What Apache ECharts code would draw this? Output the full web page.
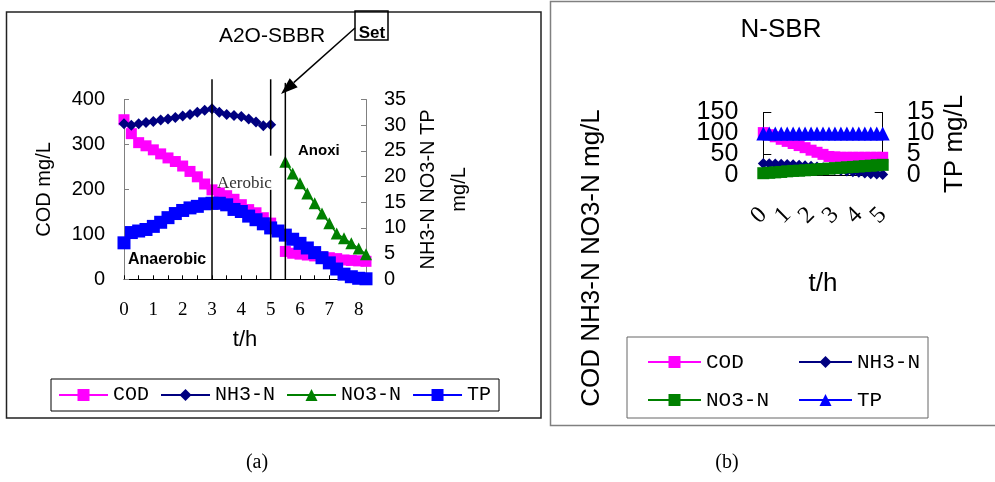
<!DOCTYPE html>
<html>
<head>
<meta charset="utf-8">
<script src="https://cdn.jsdelivr.net/npm/echarts@6/dist/echarts.min.js"></script>
<style>
  html, body { margin: 0; padding: 0; background: #fff; }
  #a { position: absolute; left: 0; top: 0; width: 548px; height: 482px; }
  #b { position: absolute; left: 548px; top: 0; width: 447px; height: 482px; }
</style>
</head>
<body>
<div id="a"></div>
<div id="b"></div>
<script>
// (a) A2O-SBBR, one sample every 15 min
var hoursA = [0, 0.25, 0.5, 0.75, 1, 1.25, 1.5, 1.75, 2, 2.25, 2.5, 2.75, 3, 3.25, 3.5, 3.75, 4,
  4.25, 4.5, 4.75, 5, 5.25, 5.5, 5.75, 6, 6.25, 6.5, 6.75, 7, 7.25, 7.5, 7.75, 8, 8.25];
var codA = [355, 324, 304, 297, 288, 279, 270, 262, 252, 240, 228, 212, 199, 192, 186, 178, 166,
  155, 148, 137, 125, null, 62, 58, 56, 54, 52, 50, 48, 46, 43, 42, 41, 40];
var nh3A = [30.3, 30.0, 30.3, 30.5, 30.7, 31.0, 31.2, 31.5, 31.8, 32.1, 32.5, 32.9, 33.2, 32.5, 32.1, 31.9, 31.7,
  31.2, 30.6, 29.9, 30.1, null, null, null, null, null, null, null, null, null, null, null, null, null];
var no3A = [null, null, null, null, null, null, null, null, null, null, null, null, null, null, null, null, null,
  null, null, null, null, null, 22.9, 20.6, 18.7, 16.7, 14.8, 12.8, 10.9, 8.9, 8.0, 7.0, 6.0, 4.9];
var tpA = [7.1, 9.1, 9.4, 9.7, 10.3, 11.1, 12.0, 12.8, 13.4, 13.9, 14.2, 14.7, 14.8, 14.8, 14.5, 13.6, 13.2,
  12.3, 11.6, 10.8, 10.0, 9.4, 8.6, 7.8, 7.0, 6.1, 5.2, 4.2, 3.2, 2.0, 1.0, 0.5, 0.2, 0.1];
var xTicksA = [0, 1, 2, 3, 4, 5, 6, 7, 8];
// phase boundaries: [t, from COD, to COD]
var phaseLines = [[3, 445, 0], [5, 445, 275], [5, 199, 0], [5.5, 437, 0]];

// (b) N-SBR
var hoursB = [0, 0.25, 0.5, 0.75, 1, 1.25, 1.5, 1.75, 2, 2.25, 2.5, 2.75, 3, 3.25, 3.5, 3.75, 4, 4.25, 4.5, 4.75, 5];
var codB = [102, 97, 92, 86, 81, 76, 71, 66, 60, 55, 50, 45, 44, 43, 43, 43, 43, 43, 43, 43, 43];
var nh3B = [28, 27.5, 27, 26.5, 26, 25, 24, 23, 21.5, 20, 18, 16, 14, 12, 10, 8.5, 7, 5.5, 4, 3, 2];
var no3B = [5, 6, 7, 8, 9.5, 10.5, 11, 12, 13, 14, 15, 16, 17, 18, 19, 20, 21, 22, 23, 24, 25];
var tpB = [10, 10, 10, 10, 10, 10, 10, 10, 10, 10, 10, 10, 10, 10, 10, 10, 10, 10, 10, 10, 10];
// tick labels of (b), split in two sets so that the crowded labels all stay visible
var leftLabelsB = [[0, 100], [50, 150]];
var rightLabelsB = [[0, 10], [5, 15]];

var sans = '"Liberation Sans", Arial, sans-serif';
var serif = '"Liberation Serif", "Times New Roman", serif';
var mono = '"Liberation Mono", monospace';

function pairs(xs, ys) {
  return xs.map(function (x, i) { return [x, ys[i] == null ? '-' : ys[i]]; });
}
function txt(x, y, text, font, extra) {
  var st = { text: text, x: 0, y: 0, align: 'center', verticalAlign: 'middle', fill: '#000' };
  for (var k in font) st[k] = font[k];
  var el = { type: 'text', x: x, y: y, z: 100, style: st };
  for (var j in extra || {}) el[j] = extra[j];
  return el;
}

// ---------- chart (a) ----------
var chartA = echarts.init(document.getElementById('a'));
var grayAxis = { lineStyle: { color: '#808080', width: 1 } };
chartA.setOption({
  animation: false,
  grid: { left: 124, top: 99.5, width: 242, height: 179.8 },
  legend: {
    left: 51, top: 379, padding: [6, 8, 6, 7],
    borderColor: '#000', borderWidth: 1,
    itemWidth: 49, itemHeight: 15, itemGap: 11,
    textStyle: { fontFamily: mono, fontSize: 20, color: '#000' },
    data: ['COD', 'NH3-N', 'NO3-N', 'TP']
  },
  xAxis: {
    type: 'value', min: 0, max: 8.25, interval: 0.5,
    axisLine: { lineStyle: { color: '#000', width: 1 } },
    axisTick: { inside: true, length: 4, lineStyle: { color: '#000' } },
    splitLine: { show: false },
    axisLabel: {
      margin: 21, fontFamily: serif, fontSize: 19, color: '#000',
      formatter: function (v) { return xTicksA.indexOf(v) >= 0 ? String(v) : ''; }
    },
    name: 't/h', nameLocation: 'middle', nameGap: 50,
    nameTextStyle: { fontFamily: sans, fontSize: 22, lineHeight: 22, color: '#000' }
  },
  yAxis: [{
    type: 'value', min: 0, max: 400, interval: 100,
    axisLine: grayAxis, axisTick: { inside: true, length: 5, lineStyle: { color: '#808080' } },
    splitLine: { show: false },
    axisLabel: { margin: 19, fontFamily: sans, fontSize: 20, color: '#000' },
    name: 'COD mg/L', nameLocation: 'middle', nameGap: 70, nameRotate: 90,
    nameTextStyle: { fontFamily: sans, fontSize: 20, lineHeight: 20, color: '#000' }
  }, {
    type: 'value', min: 0, max: 35, interval: 5, position: 'right',
    axisLine: grayAxis, axisTick: { inside: true, length: 5, lineStyle: { color: '#808080' } },
    splitLine: { show: false },
    axisLabel: { margin: 18, fontFamily: sans, fontSize: 20, color: '#000' },
    name: 'NH3-N NO3-N TP\nmg/L', nameLocation: 'middle', nameGap: 47, nameRotate: 90,
    nameTextStyle: { fontFamily: sans, fontSize: 20, lineHeight: 31, color: '#000' }
  }],
  series: [
    { name: 'COD', type: 'line', yAxisIndex: 0, data: pairs(hoursA, codA), symbol: 'rect', symbolSize: 11,
      color: '#FF00FF', lineStyle: { width: 1.5 } },
    { name: 'NH3-N', type: 'line', yAxisIndex: 1, data: pairs(hoursA, nh3A), symbol: 'diamond', symbolSize: 11,
      color: '#000080', lineStyle: { width: 1.5 } },
    { name: 'NO3-N', type: 'line', yAxisIndex: 1, data: pairs(hoursA, no3A), symbol: 'triangle', symbolSize: 12,
      color: '#008000', lineStyle: { width: 1.5 } },
    { name: 'TP', type: 'line', yAxisIndex: 1, data: pairs(hoursA, tpA), symbol: 'rect', symbolSize: 13,
      color: '#0000FF', lineStyle: { width: 1.5 } }
  ]
});

// annotations for (a): phase lines placed through the axes
var gA = [];
phaseLines.forEach(function (p) {
  var a = chartA.convertToPixel({ xAxisIndex: 0, yAxisIndex: 0 }, [p[0], p[1]]);
  var b = chartA.convertToPixel({ xAxisIndex: 0, yAxisIndex: 0 }, [p[0], p[2]]);
  gA.push({ type: 'line', z: 100, shape: { x1: a[0], y1: a[1], x2: b[0], y2: b[1] },
    style: { stroke: '#000', lineWidth: 1.5 } });
});
// arrow from "Set" box
var tip = [281, 94], tail = [355, 28];
var dx = tip[0] - tail[0], dy = tip[1] - tail[1], len = Math.sqrt(dx * dx + dy * dy);
var ux = dx / len, uy = dy / len, hl = 17, hw = 6;
var bx = tip[0] - ux * hl, by = tip[1] - uy * hl;
gA.push({ type: 'line', z: 100, shape: { x1: tail[0], y1: tail[1], x2: bx, y2: by },
  style: { stroke: '#000', lineWidth: 1.5 } });
gA.push({ type: 'polygon', z: 100,
  shape: { points: [tip, [bx - uy * hw, by + ux * hw], [bx + uy * hw, by - ux * hw]] },
  style: { fill: '#000' } });
gA.push({ type: 'rect', z: 100, shape: { x: 355, y: 11, width: 33, height: 29 },
  style: { fill: 'none', stroke: '#000', lineWidth: 1.5 } });
gA.push(txt(372, 33, 'Set', { fontFamily: sans, fontSize: 17, fontWeight: 'bold' }));
gA.push(txt(272, 36, 'A2O-SBBR', { fontFamily: sans, fontSize: 21 }));
gA.push(txt(217, 184, 'Aerobic', { fontFamily: serif, fontSize: 17, fill: '#333', align: 'left' }));
gA.push(txt(298, 151, 'Anoxi', { fontFamily: sans, fontSize: 15, fontWeight: 'bold', align: 'left' }));
gA.push(txt(128, 260, 'Anaerobic', { fontFamily: sans, fontSize: 16, fontWeight: 'bold', align: 'left' }));
gA.push({ type: 'rect', z: 0, shape: { x: 6.5, y: 12, width: 534.5, height: 406 },
  style: { fill: 'none', stroke: '#222', lineWidth: 1.5 } });
gA.push(txt(257, 463, '(a)', { fontFamily: serif, fontSize: 20 }));
chartA.setOption({ graphic: gA });

// ---------- chart (b) ----------
var chartB = echarts.init(document.getElementById('b'));
var blackAxis = { lineStyle: { color: '#000', width: 1 } };
var legendB = {
  orient: 'vertical', top: 350, padding: 0,
  itemWidth: 53, itemHeight: 15, itemGap: 14,
  textStyle: { fontFamily: mono, fontSize: 21, lineHeight: 24, color: '#000' }
};
function yAxisB(pos, max, interval, margin, shown, main) {
  return {
    type: 'value', min: 0, max: max, interval: interval, position: pos, offset: 0,
    axisLine: { show: main, lineStyle: { color: '#000', width: 1 } },
    axisTick: { show: main, inside: true, length: 8, lineStyle: { color: '#000' } },
    splitLine: { show: false },
    axisLabel: {
      margin: margin, fontFamily: sans, fontSize: 25, color: '#000',
      showMinLabel: true, showMaxLabel: true,
      formatter: function (v) { return shown.indexOf(v) >= 0 ? String(v) : ''; }
    }
  };
}
var yB = [
  yAxisB('left', 150, 50, 25, leftLabelsB[0], true),
  yAxisB('right', 15, 5, 24, rightLabelsB[0], true),
  yAxisB('left', 150, 50, 25, leftLabelsB[1], false),
  yAxisB('right', 15, 5, 24, rightLabelsB[1], false)
];
yB[1].name = 'TP mg/L';
yB[1].nameLocation = 'middle';
yB[1].nameGap = 59;
yB[1].nameRotate = 90;
yB[1].nameTextStyle = { fontFamily: sans, fontSize: 26, lineHeight: 26, color: '#000' };

chartB.setOption({
  animation: false,
  grid: { left: 215.3, top: 112.5, width: 119.4, height: 62.8 },
  legend: [
    Object.assign({}, legendB, { left: 99, data: ['COD', 'NO3-N'] }),
    Object.assign({}, legendB, { left: 250, data: ['NH3-N', 'TP'] })
  ],
  xAxis: {
    type: 'value', min: 0, max: 5, interval: 1,
    axisLine: blackAxis, axisTick: { show: false }, splitLine: { show: false },
    axisLabel: { rotate: 45, margin: 36, fontFamily: serif, fontSize: 24, color: '#000' },
    name: 't/h', nameLocation: 'middle', nameGap: 96,
    nameTextStyle: { fontFamily: sans, fontSize: 26, lineHeight: 26, color: '#000' }
  },
  yAxis: yB,
  series: [
    { name: 'COD', type: 'line', yAxisIndex: 0, data: pairs(hoursB, codB), symbol: 'rect', symbolSize: 11,
      color: '#FF00FF', lineStyle: { width: 2 } },
    { name: 'NH3-N', type: 'line', yAxisIndex: 0, data: pairs(hoursB, nh3B), symbol: 'diamond', symbolSize: 11,
      color: '#000080', lineStyle: { width: 2 } },
    { name: 'NO3-N', type: 'line', yAxisIndex: 0, data: pairs(hoursB, no3B), symbol: 'rect', symbolSize: 12,
      color: '#008000', lineStyle: { width: 2 } },
    { name: 'TP', type: 'line', yAxisIndex: 1, data: pairs(hoursB, tpB), symbol: 'triangle', symbolSize: 14,
      color: '#0000FF', lineStyle: { width: 2 } }
  ],
  graphic: [
    { type: 'rect', z: 0, shape: { x: 2.5, y: 1.5, width: 460, height: 424 },
      style: { fill: 'none', stroke: '#808080', lineWidth: 1.5 } },
    { type: 'rect', z: 0, shape: { x: 79, y: 337, width: 301, height: 81 },
      style: { fill: 'none', stroke: '#666', lineWidth: 1 } },
    txt(233, 29.5, 'N-SBR', { fontFamily: sans, fontSize: 26 }),
    txt(44, 258, 'COD NH3-N NO3-N mg/L', { fontFamily: sans, fontSize: 26 }, { rotation: Math.PI / 2 }),
    txt(179, 463, '(b)', { fontFamily: serif, fontSize: 20 })
  ]
});
</script>
</body>
</html>
